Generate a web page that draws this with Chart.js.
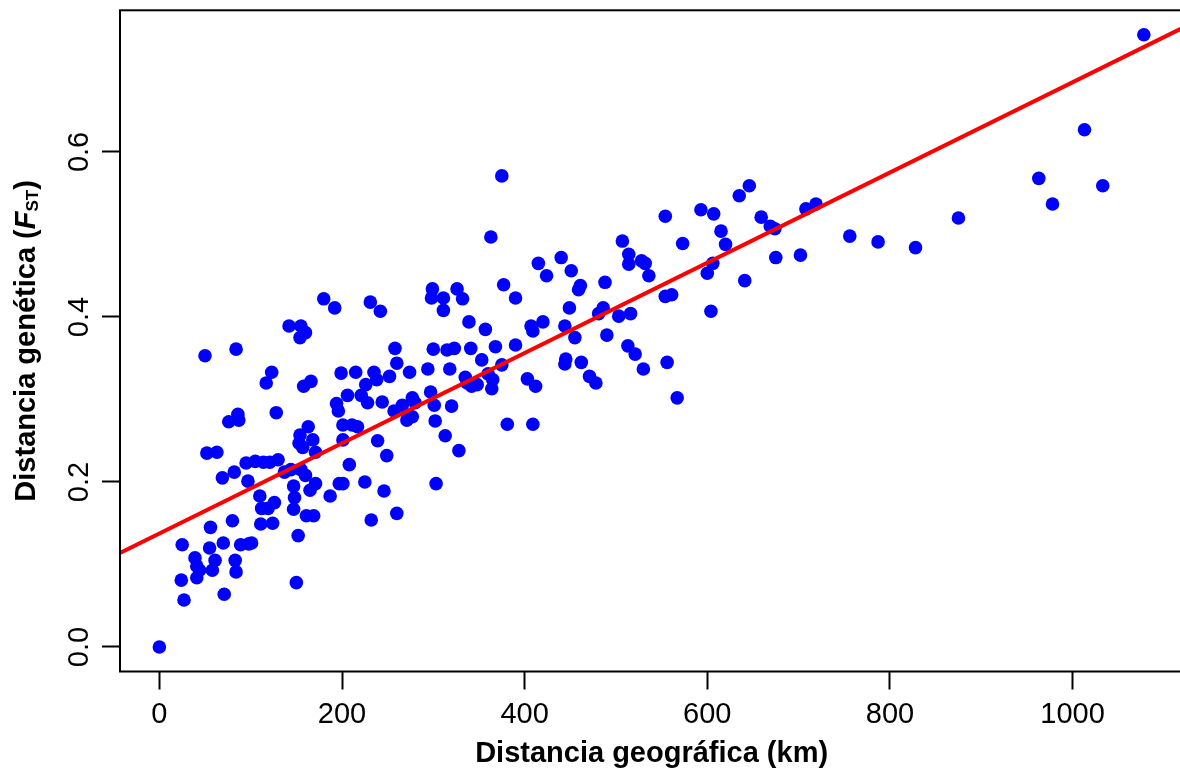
<!DOCTYPE html>
<html>
<head>
<meta charset="utf-8">
<script src="https://cdn.jsdelivr.net/npm/chart.js@4.4.1/dist/chart.umd.min.js"></script>
<style>
  html, body { margin: 0; padding: 0; background: #fff; overflow: hidden; }
  canvas { display: block; }
</style>
</head>
<body>
<canvas id="c" width="1190" height="778"></canvas>
<script>
// ---- Data ----
const distanceKm = [
  0, 25, 24, 27, 39, 41, 41, 44, 50, 52, 55, 56, 58, 61, 63, 69, 70, 71, 76, 80,
  82, 83, 84, 84, 86, 87, 89, 95, 97, 98, 101, 105, 110, 111, 112, 114, 117, 119, 121, 123,
  124, 126, 128, 130, 137, 142, 144, 147, 147, 148, 150, 152, 154, 155, 154, 155, 157, 158, 160, 160,
  161, 163, 165, 166, 168, 169, 171, 171, 180, 187, 192, 194, 196, 197, 199, 201, 201, 201, 206, 208,
  211, 215, 217, 221, 226, 228, 225, 231, 232, 235, 238, 239, 242, 244, 246, 249, 252, 257, 258, 260,
  260, 266, 271, 274, 277, 277, 280, 294, 297, 298, 299, 300, 301, 302, 303, 311, 311, 313, 315, 318,
  320, 323, 326, 328, 332, 335, 337, 339, 341, 342, 348, 353, 357, 360, 363, 364, 365, 368, 375, 375,
  377, 381, 390, 390, 403, 407, 409, 409, 412, 415, 420, 424, 440, 444, 445, 444, 449, 451, 455, 459,
  461, 462, 471, 478, 481, 486, 488, 490, 503, 507, 513, 514, 514, 516, 521, 528, 530, 532, 536, 554,
  554, 556, 561, 567, 573, 593, 600, 604, 606, 607, 615, 620, 635, 641, 646, 659, 669, 674, 675, 702,
  708, 719, 756, 787, 828, 875, 963, 978, 1013, 1033, 1078, 153
];
const fst = [
  0.000, 0.124, 0.081, 0.057, 0.108, 0.084, 0.098, 0.093, 0.353, 0.235, 0.120, 0.145, 0.093, 0.105, 0.236, 0.205, 0.126, 0.064, 0.273, 0.153,
  0.212, 0.105, 0.091, 0.361, 0.282, 0.275, 0.124, 0.223, 0.201, 0.125, 0.126, 0.225, 0.183, 0.149, 0.168, 0.224, 0.320, 0.168, 0.224, 0.333,
  0.150, 0.175, 0.284, 0.227, 0.212, 0.389, 0.215, 0.195, 0.167, 0.181, 0.078, 0.135, 0.257, 0.389, 0.375, 0.215, 0.242, 0.316, 0.381, 0.208,
  0.159, 0.267, 0.190, 0.322, 0.251, 0.159, 0.198, 0.236, 0.422, 0.183, 0.411, 0.295, 0.286, 0.198, 0.332, 0.198, 0.251, 0.269, 0.305, 0.221,
  0.269, 0.333, 0.267, 0.305, 0.318, 0.296, 0.200, 0.418, 0.154, 0.333, 0.324, 0.250, 0.407, 0.297, 0.189, 0.232, 0.328, 0.286, 0.362, 0.162,
  0.344, 0.293, 0.275, 0.333, 0.302, 0.279, 0.296, 0.337, 0.309, 0.423, 0.434, 0.361, 0.293, 0.274, 0.198, 0.423, 0.408, 0.256, 0.360, 0.337,
  0.292, 0.362, 0.434, 0.238, 0.422, 0.327, 0.320, 0.394, 0.362, 0.316, 0.318, 0.348, 0.385, 0.331, 0.497, 0.313, 0.324, 0.364, 0.571, 0.342,
  0.439, 0.270, 0.423, 0.366, 0.325, 0.389, 0.383, 0.270, 0.316, 0.465, 0.394, 0.450, 0.472, 0.389, 0.349, 0.343, 0.411, 0.456, 0.375, 0.433,
  0.438, 0.345, 0.328, 0.320, 0.404, 0.411, 0.442, 0.378, 0.401, 0.492, 0.365, 0.476, 0.464, 0.404, 0.355, 0.468, 0.337, 0.465, 0.450, 0.522,
  0.425, 0.345, 0.427, 0.302, 0.489, 0.530, 0.453, 0.407, 0.465, 0.525, 0.504, 0.488, 0.547, 0.444, 0.559, 0.521, 0.510, 0.507, 0.472, 0.475,
  0.531, 0.537, 0.498, 0.491, 0.484, 0.520, 0.568, 0.537, 0.627, 0.559, 0.742, 0.247
];
const xTicks = [0, 200, 400, 600, 800, 1000];
const yTicks = [0.0, 0.2, 0.4, 0.6];
const fitIntercept = 0.1375;   // linear fit drawn across the plot
const fitSlope = 0.000547;
const xLimits = [-43.1, 1121.1];
const yLimits = [-0.0297, 0.7717];
const xTitle = 'Distancia geográfica (km)';
const yTitleParts = ['Distancia genética (', 'F', 'ST', ')'];

// ---- Build datasets ----
const points = distanceKm.map((d, i) => ({ x: d, y: fst[i] }));
const fitLine = xLimits.map(x => ({ x: x, y: fitIntercept + fitSlope * x }));

const FONT = "'Liberation Sans', Arial, Helvetica, sans-serif";

const frameAndYTitle = {
  id: 'frameAndYTitle',
  afterDraw(chart) {
    const { ctx, chartArea } = chart;
    ctx.save();
    ctx.strokeStyle = '#000';
    ctx.lineWidth = 2;
    ctx.strokeRect(chartArea.left, chartArea.top,
                   chartArea.right - chartArea.left, chartArea.bottom - chartArea.top);
    ctx.restore();

    const fonts = [
      'bold 29px ' + FONT,
      'italic bold 29px ' + FONT,
      'bold 17px ' + FONT,
      'bold 29px ' + FONT
    ];
    const dys = [0, 0, 3, 0];
    ctx.save();
    const widths = yTitleParts.map((t, i) => { ctx.font = fonts[i]; return ctx.measureText(t).width; });
    const total = widths.reduce((a, b) => a + b, 0);
    const cy = (chartArea.top + chartArea.bottom) / 2;
    ctx.translate(35, cy);
    ctx.rotate(-Math.PI / 2);
    ctx.fillStyle = '#000';
    ctx.textBaseline = 'alphabetic';
    ctx.textAlign = 'left';
    let x = -total / 2;
    yTitleParts.forEach((t, i) => {
      ctx.font = fonts[i];
      ctx.fillText(t, x, dys[i]);
      x += widths[i];
    });
    ctx.restore();
  }
};

new Chart(document.getElementById('c'), {
  type: 'scatter',
  data: {
    datasets: [
      {
        label: 'Ajuste lineal',
        data: fitLine,
        showLine: true,
        borderColor: '#FF0000',
        borderWidth: 4,
        pointRadius: 0,
        pointHoverRadius: 0,
        fill: false,
        order: 0
      },
      {
        label: 'Pares de poblaciones',
        data: points,
        backgroundColor: '#0000FF',
        borderWidth: 0,
        pointRadius: 6.8,
        pointHoverRadius: 6.8,
        order: 1
      }
    ]
  },
  options: {
    responsive: false,
    animation: false,
    events: [],
    layout: { padding: { left: 0, top: 10.3, right: 2.4, bottom: 0 } },
    plugins: {
      legend: { display: false },
      tooltip: { enabled: false },
      title: { display: false }
    },
    scales: {
      x: {
        type: 'linear',
        min: xLimits[0],
        max: xLimits[1],
        afterBuildTicks(scale) { scale.ticks = xTicks.map(v => ({ value: v })); },
        afterFit(scale) {
          scale.height = 106.5;
          scale.paddingLeft = 0; scale.paddingRight = 0;
          scale.paddingTop = 0; scale.paddingBottom = 0;
        },
        ticks: {
          autoSkip: false,
          maxRotation: 0,
          minRotation: 0,
          padding: 8,
          color: '#000',
          font: { family: FONT, size: 29 },
          callback: v => String(v)
        },
        grid: {
          display: true,
          drawOnChartArea: false,
          drawTicks: true,
          tickLength: 18,
          tickWidth: 2,
          tickColor: '#000'
        },
        border: { display: false },
        title: {
          display: true,
          text: xTitle,
          color: '#000',
          font: { family: FONT, size: 29, weight: 'bold' },
          padding: { top: 0, bottom: 6.6 }
        }
      },
      y: {
        type: 'linear',
        min: yLimits[0],
        max: yLimits[1],
        afterBuildTicks(scale) { scale.ticks = yTicks.map(v => ({ value: v })); },
        afterFit(scale) {
          scale.width = 120;
          scale.paddingLeft = 0; scale.paddingRight = 0;
          scale.paddingTop = 0; scale.paddingBottom = 0;
        },
        ticks: {
          autoSkip: false,
          minRotation: 90,
          maxRotation: 90,
          crossAlign: 'center',
          padding: 2,
          color: '#000',
          font: { family: FONT, size: 29 },
          callback: v => v.toFixed(1)
        },
        grid: {
          display: true,
          drawOnChartArea: false,
          drawTicks: true,
          tickLength: 18,
          tickWidth: 2,
          tickColor: '#000'
        },
        border: { display: false },
        title: { display: false }
      }
    }
  },
  plugins: [frameAndYTitle]
});
</script>
</body>
</html>
